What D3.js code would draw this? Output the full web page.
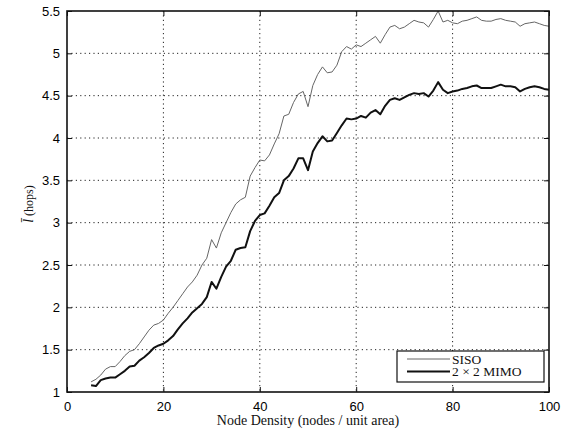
<!DOCTYPE html>
<html>
<head>
<meta charset="utf-8">
<script src="https://cdn.jsdelivr.net/npm/d3@7"></script>
<style>
  body { margin: 0; background: #fff; }
  .tick text { font-family: 'Liberation Sans', Arial, sans-serif; font-size: 13px; fill: #000; }
  .grid line { stroke: #222; stroke-width: 1; stroke-dasharray: 1.2, 3.2; }
</style>
</head>
<body>
<svg id="chart" width="576" height="433"></svg>
<script>
// node density (x) and mean hop count per series
let density = d3.range(5, 101)

let siso = [1.12, 1.15, 1.20, 1.27, 1.30, 1.30, 1.36, 1.43, 1.48, 1.50,
  1.57, 1.65, 1.73, 1.79, 1.81, 1.85, 1.93, 2.00, 2.08, 2.16,
  2.24, 2.30, 2.38, 2.50, 2.58, 2.80, 2.70, 2.88, 3.00, 3.12,
  3.22, 3.27, 3.30, 3.55, 3.65, 3.74, 3.73, 3.80, 3.93, 4.05,
  4.26, 4.28, 4.42, 4.52, 4.55, 4.37, 4.62, 4.75, 4.84, 4.77,
  4.78, 4.86, 5.02, 5.08, 5.05, 5.10, 5.08, 5.12, 5.16, 5.20,
  5.12, 5.22, 5.31, 5.33, 5.29, 5.31, 5.35, 5.39, 5.37, 5.36,
  5.31, 5.40, 5.50, 5.37, 5.39, 5.36, 5.35, 5.38, 5.39, 5.41,
  5.43, 5.39, 5.38, 5.38, 5.40, 5.41, 5.39, 5.38, 5.37, 5.32,
  5.35, 5.36, 5.37, 5.35, 5.33, 5.32]

let mimo = [1.08, 1.07, 1.14, 1.16, 1.17, 1.17, 1.21, 1.25, 1.30, 1.31,
  1.37, 1.41, 1.46, 1.52, 1.55, 1.57, 1.61, 1.66, 1.74, 1.81,
  1.87, 1.94, 1.99, 2.04, 2.12, 2.30, 2.22, 2.36, 2.48, 2.55,
  2.68, 2.70, 2.71, 2.90, 3.02, 3.09, 3.11, 3.20, 3.30, 3.35,
  3.50, 3.55, 3.64, 3.76, 3.76, 3.62, 3.84, 3.94, 4.02, 3.96,
  3.97, 4.06, 4.15, 4.23, 4.22, 4.23, 4.26, 4.24, 4.30, 4.33,
  4.28, 4.38, 4.45, 4.47, 4.45, 4.48, 4.51, 4.53, 4.52, 4.53,
  4.49, 4.56, 4.66, 4.57, 4.53, 4.55, 4.56, 4.58, 4.59, 4.61,
  4.62, 4.59, 4.59, 4.59, 4.61, 4.63, 4.61, 4.61, 4.60, 4.55,
  4.58, 4.60, 4.61, 4.60, 4.58, 4.57]

let xTicks = [0, 20, 40, 60, 80, 100]
let yTicks = [1, 1.5, 2, 2.5, 3, 3.5, 4, 4.5, 5, 5.5]
let seriesNames = ['SISO', '2 \u00d7 2 MIMO']

let margin = { top: 11, right: 27, bottom: 41, left: 67 }
let width = 576
let height = 433
let innerWidth = width - margin.left - margin.right
let innerHeight = height - margin.top - margin.bottom

let svg = d3.select('#chart')
let g = svg.append('g')
  .attr('transform', translation(margin.left, margin.top))

let xScale = d3.scaleLinear().domain([0, 100]).range([0, innerWidth])
let yScale = d3.scaleLinear().domain([1, 5.5]).range([innerHeight, 0])

// GRID
g.append('g')
  .attr('class', 'grid')
  .selectAll('line')
  .data(xTicks.slice(1, -1))
  .enter().append('line')
  .attr('x1', d => xScale(d)).attr('x2', d => xScale(d))
  .attr('y1', 0).attr('y2', innerHeight)
g.append('g')
  .attr('class', 'grid')
  .selectAll('line')
  .data(yTicks.slice(1, -1))
  .enter().append('line')
  .attr('x1', 0).attr('x2', innerWidth)
  .attr('y1', d => yScale(d)).attr('y2', d => yScale(d))

// AXES (matlab style, ticks inside)
let xAxis = d3.axisBottom(xScale).tickValues(xTicks).tickSizeInner(-5).tickSizeOuter(0).tickPadding(10)
let yAxis = d3.axisLeft(yScale).tickValues(yTicks).tickSizeInner(-5).tickSizeOuter(0).tickPadding(7)
  .tickFormat(d => String(d))

g.append('g').attr('transform', translation(0, innerHeight)).call(xAxis)
g.append('g').call(yAxis)
g.append('g').call(d3.axisTop(xScale).tickValues(xTicks).tickSizeInner(-5).tickSizeOuter(0).tickFormat(''))
g.append('g').attr('transform', translation(innerWidth, 0))
  .call(d3.axisRight(yScale).tickValues(yTicks).tickSizeInner(-5).tickSizeOuter(0).tickFormat(''))
g.selectAll('.domain').remove()
g.selectAll('.tick line').attr('stroke', '#111')

// LINES
let line = d3.line()
  .x((d, i) => xScale(density[i]))
  .y(d => yScale(d))

g.append('path')
  .datum(siso)
  .attr('fill', 'none')
  .attr('stroke', '#666')
  .attr('stroke-width', 1)
  .attr('d', line)

g.append('path')
  .datum(mimo)
  .attr('fill', 'none')
  .attr('stroke', '#111')
  .attr('stroke-width', 2)
  .attr('stroke-linejoin', 'round')
  .attr('d', line)

// FRAME
g.append('rect')
  .attr('width', innerWidth)
  .attr('height', innerHeight)
  .attr('fill', 'none')
  .attr('stroke', '#111')
  .attr('stroke-width', 1.6)

// LABELS
svg.append('text')
  .attr('x', margin.left + innerWidth / 2)
  .attr('y', 425)
  .attr('text-anchor', 'middle')
  .attr('font-family', "'Liberation Serif', 'DejaVu Serif', serif")
  .attr('font-size', 14)
  .attr('fill', '#111')
  .text('Node Density (nodes / unit area)')

let yLab = svg.append('text')
  .attr('transform', translation(33, 204) + ' rotate(-90)')
  .attr('text-anchor', 'middle')
  .attr('font-family', "'Liberation Serif', 'DejaVu Serif', serif")
  .attr('font-size', 14)
  .attr('fill', '#111')
yLab.append('tspan').attr('font-style', 'italic').text('l\u0304')
yLab.append('tspan').attr('font-size', 12).text(' (hops)')

// LEGEND
let legend = svg.append('g').attr('transform', translation(397, 351))
legend.append('rect')
  .attr('width', 147).attr('height', 31)
  .attr('fill', '#fff').attr('stroke', '#111').attr('stroke-width', 1.2)

let items = legend.selectAll('g.item')
  .data(seriesNames)
  .enter().append('g')
  .attr('transform', (d, i) => translation(0, 8 + i * 12.5))
items.append('line')
  .attr('x1', 10).attr('x2', 53)
  .attr('stroke', (d, i) => i === 0 ? '#666' : '#111')
  .attr('stroke-width', (d, i) => i === 0 ? 1 : 2)
items.append('text')
  .attr('x', 55).attr('y', 4.5)
  .attr('font-family', "'Liberation Serif', 'DejaVu Serif', serif")
  .attr('font-size', 13.5)
  .attr('fill', '#111')
  .text(d => d)

function translation (x, y) {
  return 'translate(' + x + ',' + y + ')'
}
</script>
</body>
</html>
